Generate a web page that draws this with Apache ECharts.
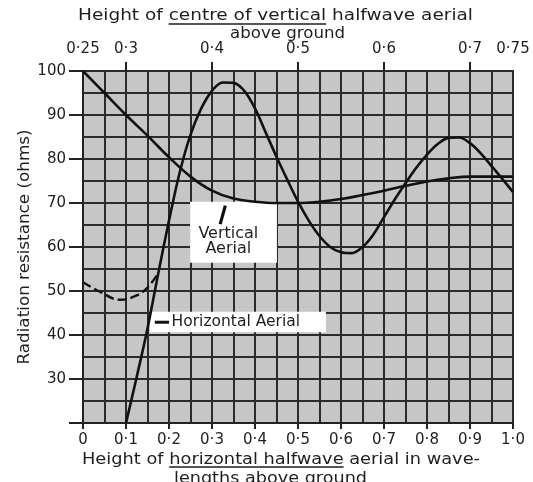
<!DOCTYPE html>
<html><head><meta charset="utf-8">
<script src="https://cdn.jsdelivr.net/npm/echarts@6/dist/echarts.min.js"></script>
<style>html,body{margin:0;padding:0;background:#fff}#c{width:533px;height:482px}</style>
</head><body><div id="c"></div>
<script>
// ---- data (bottom axis: height of horizontal aerial, wavelengths) ----
const xTickValues = [0, 0.1, 0.2, 0.3, 0.4, 0.5, 0.6, 0.7, 0.8, 0.9, 1.0];
const topTickLabels = [0.25, 0.3, 0.4, 0.5, 0.6, 0.7, 0.75];
const topTickMarks = [0.3, 0.4, 0.5, 0.6, 0.7];
const yTickValues = [30, 40, 50, 60, 70, 80, 90, 100];

const verticalX = [0, 0.05, 0.1, 0.15, 0.2, 0.25, 0.3, 0.35, 0.4, 0.45, 0.5, 0.55, 0.6, 0.65, 0.7, 0.75, 0.8, 0.85, 0.9, 0.95, 1.0];
const verticalY = [100, 95, 90, 85.3, 80.4, 76, 72.8, 71, 70.3, 70, 70, 70.3, 70.9, 71.8, 72.8, 73.9, 74.9, 75.6, 76, 76, 76];

const horizX = [0.1, 0.125, 0.15, 0.175, 0.2, 0.225, 0.25, 0.275, 0.3, 0.325, 0.35, 0.375, 0.4, 0.425, 0.45, 0.475, 0.5, 0.525, 0.55, 0.575, 0.6, 0.625, 0.65, 0.675, 0.7, 0.725, 0.75, 0.775, 0.8, 0.825, 0.85, 0.875, 0.9, 0.925, 0.95, 0.975, 1.0];
const horizY = [20, 30.5, 41.5, 54, 66, 77, 85.5, 91.5, 95.5, 97.4, 97.3, 95.5, 91.5, 86, 80.5, 75.3, 70.3, 66, 62.5, 60, 58.8, 58.6, 60, 62.8, 66.8, 70.8, 74.5, 78, 81, 83.4, 84.8, 84.9, 83.6, 81.3, 78.4, 75.5, 72.5];

const horizDashX = [0, 0.04, 0.086, 0.125, 0.15, 0.175];
const horizDashY = [52, 49.8, 48, 49, 50.8, 54];

// annotation anchors (data coords)
const vertLabelBox = [[0.249, 70.3], [0.451, 56.4]];
const vertPointer = [[0.319, 65.2], [0.331, 69.4]];
const vertLabelText = ['Vertical', 'Aerial'];
const vertLabelPos = [[0.338, 63], [0.338, 59.6]];
const horLabelBox = [[0.156, 45.3], [0.565, 40.6]];
const horPointer = [[0.167, 42.9], [0.2, 42.9]];
const horLabelText = 'Horizontal Aerial';
const horLabelPos = [0.206, 42.9];

const FONT = 'DejaVu Sans';
const TXT = '#1e1e1e';
const LINE = '#2b2b2b';

function dot(s) { return s.replace('.', '\u00b7'); }
function pairs(xs, ys) { return xs.map((x, i) => [x, ys[i]]); }

const chart = echarts.init(document.getElementById('c'), null, { renderer: 'canvas' });
const gridLine = { color: LINE, width: 2 };

chart.setOption({
  animation: false,
  backgroundColor: '#fff',
  grid: { left: 83, right: 20, top: 71, bottom: 59, show: true, backgroundColor: '#c6c6c6', borderColor: '#222', borderWidth: 2 },
  xAxis: [
    {
      type: 'value', position: 'bottom', min: 0, max: 1, interval: 0.1,
      axisLine: { show: true, lineStyle: { color: '#222', width: 2 } },
      axisTick: { show: true, length: 6, lineStyle: { color: '#222', width: 2 } },
      axisLabel: { color: TXT, fontFamily: FONT, fontSize: 15, margin: 10, customValues: xTickValues,
        formatter: v => v === 0 ? '0' : dot(v.toFixed(1)) },
      splitLine: { show: true, lineStyle: gridLine },
      minorTick: { show: false, splitNumber: 2 },
      minorSplitLine: { show: true, lineStyle: gridLine }
    },
    {
      type: 'value', position: 'top', min: 0.25, max: 0.75,
      axisLine: { show: false },
      axisTick: { show: true, length: 9, customValues: topTickMarks, lineStyle: { color: '#222', width: 2 } },
      axisLabel: { color: TXT, fontFamily: FONT, fontSize: 15, margin: 14, customValues: topTickLabels,
        formatter: v => dot(Math.abs(v - 0.25) < 1e-9 || Math.abs(v - 0.75) < 1e-9 ? v.toFixed(2) : v.toFixed(1)) },
      splitLine: { show: false }
    }
  ],
  yAxis: {
    type: 'value', min: 20, max: 100, interval: 10,
    axisLine: { show: true, lineStyle: { color: '#222', width: 2 } },
    axisTick: { show: true, length: 14, lineStyle: { color: '#222', width: 2 } },
    axisLabel: { color: TXT, fontFamily: FONT, fontSize: 15, margin: 17, formatter: v => v === 20 ? '' : String(v) },
    splitLine: { show: true, lineStyle: gridLine },
    minorTick: { show: false, splitNumber: 2 },
    minorSplitLine: { show: true, lineStyle: gridLine }
  },
  series: [
    { name: 'Vertical Aerial', type: 'line', data: pairs(verticalX, verticalY), smooth: 0.4, showSymbol: false,
      lineStyle: { color: '#111', width: 2.6 }, z: 5 },
    { name: 'Horizontal Aerial', type: 'line', data: pairs(horizX, horizY), smooth: 0.35, showSymbol: false,
      lineStyle: { color: '#111', width: 2.6 }, z: 5 },
    { name: 'Horizontal (dashed)', type: 'line', data: pairs(horizDashX, horizDashY), smooth: 0.4, showSymbol: false,
      lineStyle: { color: '#111', width: 2.4, type: [9, 4] }, z: 5 }
  ]
});

const mctx = document.createElement('canvas').getContext('2d');
function tw(s, size) { mctx.font = size + 'px "' + FONT + '"'; return mctx.measureText(s).width; }
function fontOf(size) { return size + 'px "' + FONT + '"'; }

// text stretched horizontally to span [left, right], optional underline of a middle part
function spanText(pre, under, post, left, right, cy, size, uOff) {
  const full = pre + under + post;
  const w = tw(full, size);
  const s = (right - left) / w;
  const out = [{ type: 'text', x: left, y: cy, scaleX: s, scaleY: 1,
    style: { text: full, fill: TXT, font: fontOf(size), textAlign: 'left', textVerticalAlign: 'middle' }, z: 20 }];
  if (under) {
    const u0 = left + tw(pre, size) * s, u1 = left + tw(pre + under, size) * s;
    out.push({ type: 'line', shape: { x1: u0, y1: cy + uOff, x2: u1, y2: cy + uOff }, style: { stroke: TXT, lineWidth: 1.4 }, z: 20 });
  }
  return out;
}

const px = p => chart.convertToPixel({ xAxisIndex: 0, yAxisIndex: 0 }, p);
const g = [];
{
  const a = px(vertLabelBox[0]), b = px(vertLabelBox[1]);
  g.push({ type: 'rect', shape: { x: a[0], y: a[1], width: b[0] - a[0], height: b[1] - a[1] }, style: { fill: '#fff' }, z: 3 });
  const p0 = px(vertPointer[0]), p1 = px(vertPointer[1]);
  g.push({ type: 'line', shape: { x1: p0[0], y1: p0[1], x2: p1[0], y2: p1[1] }, style: { stroke: '#111', lineWidth: 3.2 }, z: 6 });
  vertLabelText.forEach((t, i) => {
    const q = px(vertLabelPos[i]);
    g.push({ type: 'text', x: q[0], y: q[1], style: { text: t, fill: TXT, font: fontOf(16), textAlign: 'center', textVerticalAlign: 'middle' }, z: 6 });
  });
}
{
  const a = px(horLabelBox[0]), b = px(horLabelBox[1]);
  g.push({ type: 'rect', shape: { x: a[0], y: a[1], width: b[0] - a[0], height: b[1] - a[1] }, style: { fill: '#fff' }, z: 3 });
  const p0 = px(horPointer[0]), p1 = px(horPointer[1]);
  g.push({ type: 'line', shape: { x1: p0[0], y1: p0[1], x2: p1[0], y2: p1[1] }, style: { stroke: '#111', lineWidth: 3 }, z: 6 });
  const q = px(horLabelPos);
  g.push({ type: 'text', x: q[0], y: q[1], style: { text: horLabelText, fill: TXT, font: fontOf(15.5), textAlign: 'left', textVerticalAlign: 'middle' }, z: 6 });
}
// titles
g.push(...spanText('Height of ', 'centre of vertical', ' halfwave aerial', 78, 473, 16, 15, 8));
g.push(...spanText('above ground', '', '', 230, 345, 34, 15, 0));
g.push(...spanText('Height of ', 'horizontal halfwave', ' aerial in wave-', 82, 480, 460, 15, 7));
g.push(...spanText('lengths above ground', '', '', 174, 367, 479, 15, 0));
// y axis title (rotated)
{
  const t = 'Radiation resistance (ohms)';
  const size = 15;
  const s = 235 / tw(t, size);
  g.push({ type: 'text', x: 25, y: 247, rotation: Math.PI / 2, scaleX: s, scaleY: 1,
    style: { text: t, fill: TXT, font: fontOf(size), textAlign: 'center', textVerticalAlign: 'middle' }, z: 20 });
}
chart.setOption({ graphic: g });
</script>
</body></html>
